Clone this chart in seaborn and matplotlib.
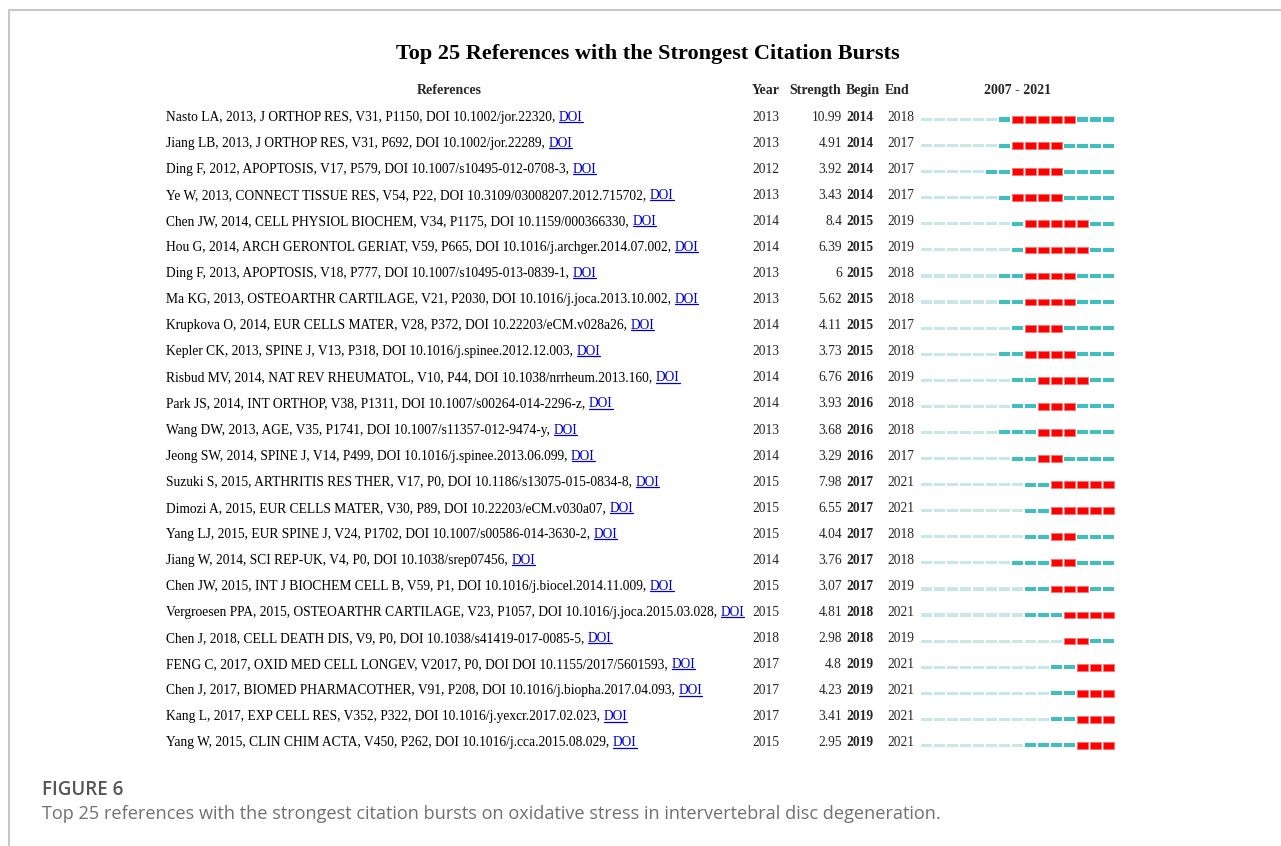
import numpy as np
import pandas as pd
import matplotlib
matplotlib.use("Agg")
import matplotlib.pyplot as plt
from matplotlib.lines import Line2D
import seaborn as sns

# ---------------- data ----------------
TITLE = "Top 25 References with the Strongest Citation Bursts"
COL_HEADERS = ["References", "Year", "Strength", "Begin", "End"]
references = [
    "Nasto LA, 2013, J ORTHOP RES, V31, P1150, DOI 10.1002/jor.22320",
    "Jiang LB, 2013, J ORTHOP RES, V31, P692, DOI 10.1002/jor.22289",
    "Ding F, 2012, APOPTOSIS, V17, P579, DOI 10.1007/s10495-012-0708-3",
    "Ye W, 2013, CONNECT TISSUE RES, V54, P22, DOI 10.3109/03008207.2012.715702",
    "Chen JW, 2014, CELL PHYSIOL BIOCHEM, V34, P1175, DOI 10.1159/000366330",
    "Hou G, 2014, ARCH GERONTOL GERIAT, V59, P665, DOI 10.1016/j.archger.2014.07.002",
    "Ding F, 2013, APOPTOSIS, V18, P777, DOI 10.1007/s10495-013-0839-1",
    "Ma KG, 2013, OSTEOARTHR CARTILAGE, V21, P2030, DOI 10.1016/j.joca.2013.10.002",
    "Krupkova O, 2014, EUR CELLS MATER, V28, P372, DOI 10.22203/eCM.v028a26",
    "Kepler CK, 2013, SPINE J, V13, P318, DOI 10.1016/j.spinee.2012.12.003",
    "Risbud MV, 2014, NAT REV RHEUMATOL, V10, P44, DOI 10.1038/nrrheum.2013.160",
    "Park JS, 2014, INT ORTHOP, V38, P1311, DOI 10.1007/s00264-014-2296-z",
    "Wang DW, 2013, AGE, V35, P1741, DOI 10.1007/s11357-012-9474-y",
    "Jeong SW, 2014, SPINE J, V14, P499, DOI 10.1016/j.spinee.2013.06.099",
    "Suzuki S, 2015, ARTHRITIS RES THER, V17, P0, DOI 10.1186/s13075-015-0834-8",
    "Dimozi A, 2015, EUR CELLS MATER, V30, P89, DOI 10.22203/eCM.v030a07",
    "Yang LJ, 2015, EUR SPINE J, V24, P1702, DOI 10.1007/s00586-014-3630-2",
    "Jiang W, 2014, SCI REP-UK, V4, P0, DOI 10.1038/srep07456",
    "Chen JW, 2015, INT J BIOCHEM CELL B, V59, P1, DOI 10.1016/j.biocel.2014.11.009",
    "Vergroesen PPA, 2015, OSTEOARTHR CARTILAGE, V23, P1057, DOI 10.1016/j.joca.2015.03.028",
    "Chen J, 2018, CELL DEATH DIS, V9, P0, DOI 10.1038/s41419-017-0085-5",
    "FENG C, 2017, OXID MED CELL LONGEV, V2017, P0, DOI DOI 10.1155/2017/5601593",
    "Chen J, 2017, BIOMED PHARMACOTHER, V91, P208, DOI 10.1016/j.biopha.2017.04.093",
    "Kang L, 2017, EXP CELL RES, V352, P322, DOI 10.1016/j.yexcr.2017.02.023",
    "Yang W, 2015, CLIN CHIM ACTA, V450, P262, DOI 10.1016/j.cca.2015.08.029",
]
pub_years = [2013, 2013, 2012, 2013, 2014, 2014, 2013, 2013, 2014, 2013,
             2014, 2014, 2013, 2014, 2015, 2015, 2015, 2014, 2015, 2015,
             2018, 2017, 2017, 2017, 2015]
strengths = [10.99, 4.91, 3.92, 3.43, 8.4, 6.39, 6, 5.62, 4.11, 3.73,
             6.76, 3.93, 3.68, 3.29, 7.98, 6.55, 4.04, 3.76, 3.07, 4.81,
             2.98, 4.8, 4.23, 3.41, 2.95]
begins = [2014, 2014, 2014, 2014, 2015, 2015, 2015, 2015, 2015, 2015,
          2016, 2016, 2016, 2016, 2017, 2017, 2017, 2017, 2017, 2018,
          2018, 2019, 2019, 2019, 2019]
ends = [2018, 2017, 2017, 2017, 2019, 2019, 2018, 2018, 2017, 2018,
        2019, 2018, 2018, 2017, 2021, 2021, 2018, 2018, 2019, 2021,
        2019, 2021, 2021, 2021, 2021]
YEAR_FIRST, YEAR_LAST = 2007, 2021
LINK_LABEL = "DOI"
CAPTION_LABEL = "FIGURE 6"
CAPTION = ("Top 25 references with the strongest citation bursts on oxidative "
           "stress in intervertebral disc degeneration.")

# ---------------- style ----------------
sns.set_theme(style="white")
plt.rcParams['font.family'] = ['Liberation Serif', 'DejaVu Serif']

W, H = 1281, 846
fig = plt.figure(figsize=(W / 100, H / 100), dpi=100)
fig.patch.set_facecolor("white")

n = len(references)
top_px, row_px = 116.0, 26.08


def fy(px):
    return 1 - px / H


ax_top = top_px - row_px / 2
ax_bot = top_px + (n - 1) * row_px + row_px / 2

# text axes (x in figure pixels, y in row units)
tax = fig.add_axes([0, fy(ax_bot), 1, (ax_bot - ax_top) / H])
tax.set_xlim(0, W)
tax.set_ylim(n - 0.5, -0.5)
tax.axis("off")

# burst timeline axes (x in years, y in row units)
bar_left, bar_right = 920, 1115
bax = fig.add_axes([bar_left / W, fy(ax_bot + 3.5), (bar_right - bar_left) / W,
                    (ax_bot - ax_top) / H])
bax.set_xlim(YEAR_FIRST - 0.5, YEAR_LAST + 0.5)
bax.set_ylim(n - 0.5, -0.5)
bax.axis("off")

# long-form segments
recs = []
for i in range(n):
    for yr in range(YEAR_FIRST, YEAR_LAST + 1):
        if yr < pub_years[i]:
            s = "before"
        elif begins[i] <= yr <= ends[i]:
            s = "burst"
        else:
            s = "active"
        recs.append((i, yr, s))
seg = pd.DataFrame(recs, columns=["row", "year", "state"])

styles = {
    "before": dict(height=0.12, color="#c8e7e8", edgecolor="none", lw=0),
    "active": dict(height=0.155, color="#3fbfc0", edgecolor="none", lw=0),
    "burst": dict(height=0.26, color="#ff0000", edgecolor="#ff7070", lw=0.6),
}
for state, st in styles.items():
    sub = seg[seg["state"] == state]
    bax.barh(sub["row"], width=0.92, left=sub["year"] - 0.46, **st)

# ---------------- texts ----------------
FS = 9.75
HFS = 10
BL = 0.175  # baseline offset (rows)
tax.text(648, -2.17, TITLE, ha="center", va="baseline", fontsize=16,
         fontweight="bold", color="black", clip_on=False)
hy = -1 + BL
tax.text(449, hy, COL_HEADERS[0], ha="center", va="baseline", fontsize=HFS,
         fontweight="bold", clip_on=False)
tax.text(752, hy, COL_HEADERS[1], ha="left", va="baseline", fontsize=HFS,
         fontweight="bold", clip_on=False)
tax.text(789, hy, COL_HEADERS[2], ha="left", va="baseline", fontsize=HFS,
         fontweight="bold", clip_on=False)
tax.text(846, hy, COL_HEADERS[3], ha="left", va="baseline", fontsize=HFS,
         fontweight="bold", clip_on=False)
tax.text(885, hy, COL_HEADERS[4], ha="left", va="baseline", fontsize=HFS,
         fontweight="bold", clip_on=False)
tax.text(1017, hy, f"{YEAR_FIRST} - {YEAR_LAST}", ha="center", va="baseline",
         fontsize=HFS, fontweight="bold", clip_on=False)

links = []
for i in range(n):
    y = i + BL
    t = tax.text(166, y, references[i] + ",", ha="left", va="baseline",
                 fontsize=FS, color="black")
    d = tax.annotate(LINK_LABEL, xy=(1, 0), xycoords=t, xytext=(2.6, 0),
                     textcoords="offset points", ha="left", va="bottom",
                     fontsize=FS, color="#0000cc")
    links.append(d)
    tax.text(752, y, str(pub_years[i]), ha="left", va="baseline", fontsize=FS)
    tax.text(842, y, f"{strengths[i]:g}", ha="right", va="baseline", fontsize=FS)
    tax.text(846, y, str(begins[i]), ha="left", va="baseline", fontsize=FS,
             fontweight="bold")
    tax.text(887, y, str(ends[i]), ha="left", va="baseline", fontsize=FS)

# caption
cap_font = ["Open Sans", "DejaVu Sans"]
fig.text(42 / W, fy(790), CAPTION_LABEL, ha="left", va="center", fontsize=13.5,
         fontweight="semibold", color="#555555", family=cap_font)
fig.text(42 / W, fy(814), CAPTION, ha="left", va="center", fontsize=13.1,
         color="#707070", family=cap_font)

# frame lines of the figure box
fig.add_artist(Line2D([9 / W, 1], [fy(10), fy(10)], transform=fig.transFigure,
                      color="#c8c8c8", lw=1.5))
fig.add_artist(Line2D([9 / W, 9 / W], [fy(10), 0], transform=fig.transFigure,
                      color="#c8c8c8", lw=1.5))

# underline links
fig.canvas.draw()
renderer = fig.canvas.get_renderer()
for d in links:
    bb = d.get_window_extent(renderer)
    y = bb.y0 + 1.8
    fig.add_artist(Line2D([(bb.x0 + 0.5) / W, bb.x1 / W], [y / H, y / H],
                          transform=fig.transFigure, color="#0000cc", lw=0.9))

fig.savefig("out.png", dpi=100, facecolor="white")
